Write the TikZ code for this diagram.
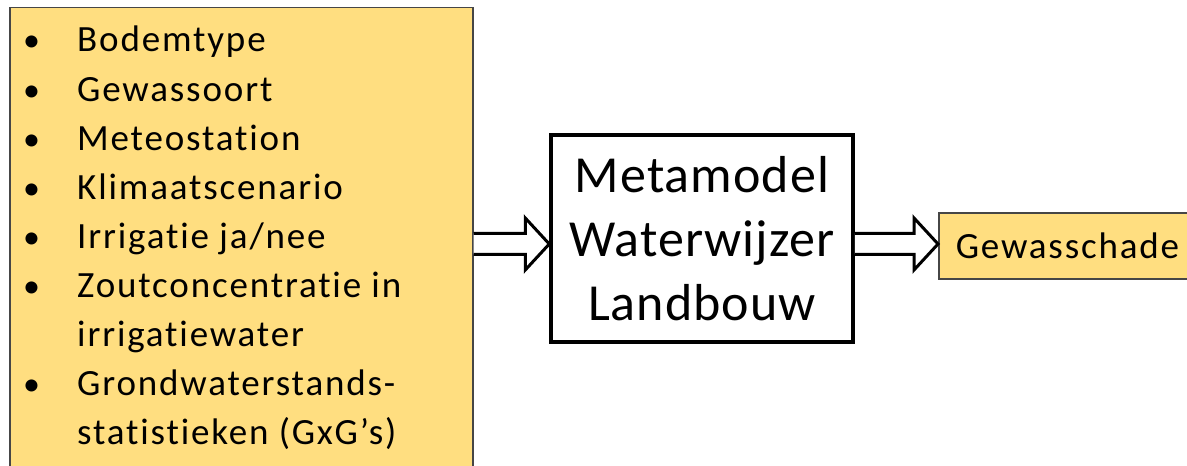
\documentclass[tikz,border=0pt]{standalone}
\usepackage{fontspec}
\setmainfont{Carlito}[RawFeature=-liga]
\newfontfamily\listfont{Carlito}[RawFeature=-liga,LetterSpace=5]
\newfontfamily\modelfont{Carlito}[RawFeature=-liga,LetterSpace=2]
\usepackage{tikz}
\usetikzlibrary{positioning,calc}

\definecolor{inputfill}{RGB}{255,222,128}
\definecolor{inputline}{RGB}{70,70,70}

\newcommand{\hollowarrow}[3]{%
  \draw[hollow] let \p1=(#1.east), \p2=(#2.west), \p3=(#3) in
    (\x1,\y3+10.5pt) -- (\x2-24pt,\y3+10.5pt) -- (\x2-24pt,\y3+26pt) -- (\x2,\y3)
    -- (\x2-24pt,\y3-26pt) -- (\x2-24pt,\y3-10.5pt) -- (\x1,\y3-10.5pt);}
\newcommand{\bul}{{\fontsize{34}{34}\selectfont\textbullet}}

\begin{document}
\begin{tikzpicture}[x=1pt,y=1pt,
    inbox/.style={draw=inputline,line width=1.5pt,fill=inputfill,inner sep=0pt},
    modelbox/.style={draw,line width=3.5pt,fill=white,align=center,
      font=\modelfont\fontsize{52}{64}\selectfont,minimum width=302,minimum height=207},
    hollow/.style={draw,line width=3pt,fill=white,miter limit=20}]
  \clip (0,0) rectangle (1187,466);
  \fill[white] (0,0) rectangle (1187,466);
  % inputs
  \node[inbox,anchor=north west,minimum width=463,minimum height=480] (inp) at (9,459) {};
  \node[anchor=base west,inner sep=0pt,font=\listfont\fontsize{37}{49.1}\selectfont] (lst) at (23,414)
    {\begin{tabular}[t]{@{}p{54pt}@{}l@{}}
      \bul & Bodemtype\\
      \bul & Gewassoort\\
      \bul & Meteostation\\
      \bul & Klimaatscenario\\
      \bul & Irrigatie ja/nee\\
      \bul & Zoutconcentratie in\\
           & irrigatiewater\\
      \bul & Grondwaterstands-\\
           & statistieken (GxG’s)
    \end{tabular}};
  % metamodel
  \node[modelbox] (model) at (702,227.5) {Metamodel\\Waterwijzer\\Landbouw};
  % output
  \node[inbox,anchor=west,minimum height=66,minimum width=270,text width=240,
    inner xsep=17pt,font=\listfont\fontsize{37}{44}\selectfont] (out) at (938,220) {Gewasschade};
  \coordinate (axis) at (0,222);
  \hollowarrow{inp}{model}{axis}
  \hollowarrow{model}{out}{axis}
\end{tikzpicture}
\end{document}
